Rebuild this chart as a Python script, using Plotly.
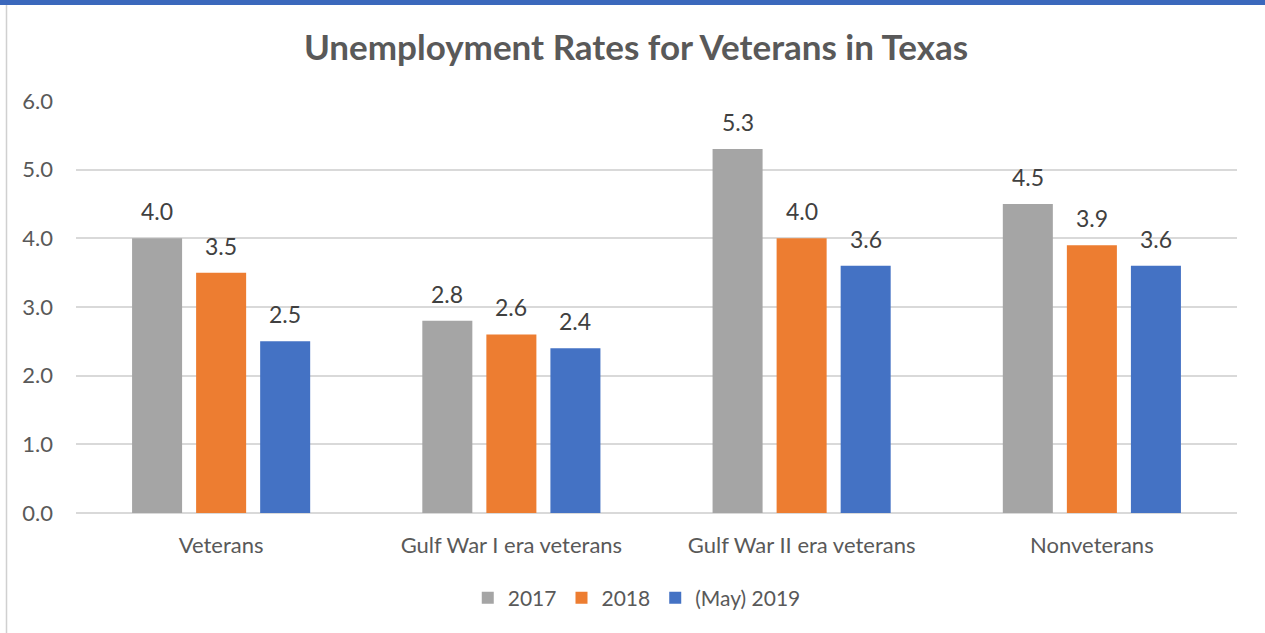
import plotly.graph_objects as go

categories = ["Veterans", "Gulf War I era veterans", "Gulf War II era veterans", "Nonveterans"]
series_names = ["2017", "2018", "(May) 2019"]
values_2017 = [4.0, 2.8, 5.3, 4.5]
values_2018 = [3.5, 2.6, 4.0, 3.9]
values_2019 = [2.5, 2.4, 3.6, 3.6]
colors = ["#A5A5A5", "#ED7D31", "#4472C4"]
y_ticks = [0, 1, 2, 3, 4, 5, 6]

FONT = "Lato"
W, H = 1265, 633
L, R, T, B = 76, 28, 101, 120
pw, ph = W - L - R, H - T - B

fig = go.Figure()
all_series = [values_2017, values_2018, values_2019]
for name, vals, col in zip(series_names, all_series, colors):
    fig.add_trace(go.Bar(x=categories, y=vals, name=name, marker_color=col,
                         marker_line_width=0))

shifts = [-64, 0, 64]
for vals, sh in zip(all_series, shifts):
    for c, v in zip(categories, vals):
        fig.add_annotation(x=c, y=v, text=f"{v:.1f}", showarrow=False,
                           xshift=sh, yshift=27, yanchor="middle",
                           font=dict(family=FONT, size=23, color="#404040"))

def px_x(p):
    return (p - L) / pw

def px_y(p):
    return (H - B - p) / ph

shapes = [
    dict(type="rect", xref="paper", yref="paper", x0=px_x(-2), x1=px_x(W + 2), y0=px_y(5), y1=px_y(-2),
         fillcolor="#3B68BC", line_width=0, layer="above"),
    dict(type="line", xref="paper", yref="paper", x0=px_x(6.5), x1=px_x(6.5), y0=px_y(5), y1=px_y(H + 5),
         line=dict(color="#D0D0D0", width=1.5)),
]

fig.update_layout(
    width=W, height=H,
    margin=dict(l=L, r=R, t=T, b=B),
    paper_bgcolor="white", plot_bgcolor="white",
    barmode="group", bargap=0.338, bargroupgap=0.219,
    title=dict(text="<b>Unemployment Rates for Veterans in Texas</b>", x=636 / W, xref="container",
               xanchor="center", y=1 - 48 / H, yanchor="middle",
               font=dict(family=FONT, size=35, color="#595959")),
    font=dict(family=FONT, color="#595959"),
    shapes=shapes,
    showlegend=True,
    legend=dict(orientation="h", x=0.483, xanchor="center", y=px_y(598), yanchor="middle",
                font=dict(family=FONT, size=21, color="#595959"), itemwidth=30,
                traceorder="normal"),
    xaxis=dict(showgrid=False, showline=False, ticks="", tickfont=dict(size=22, color="#595959"),
               ticklabelstandoff=17),
    yaxis=dict(range=[0, 6], tickvals=y_ticks, tickformat=".1f", showgrid=True,
               gridcolor="#D9D9D9", gridwidth=1.5, zeroline=True, zerolinecolor="#D9D9D9",
               zerolinewidth=1.5, showline=False, ticks="",
               tickfont=dict(size=22, color="#595959"), ticklabelstandoff=22),
)

fig.write_html("out.html", config={"displayModeBar": False},
               post_script="document.body.style.margin='0';document.body.style.overflow='hidden';")
